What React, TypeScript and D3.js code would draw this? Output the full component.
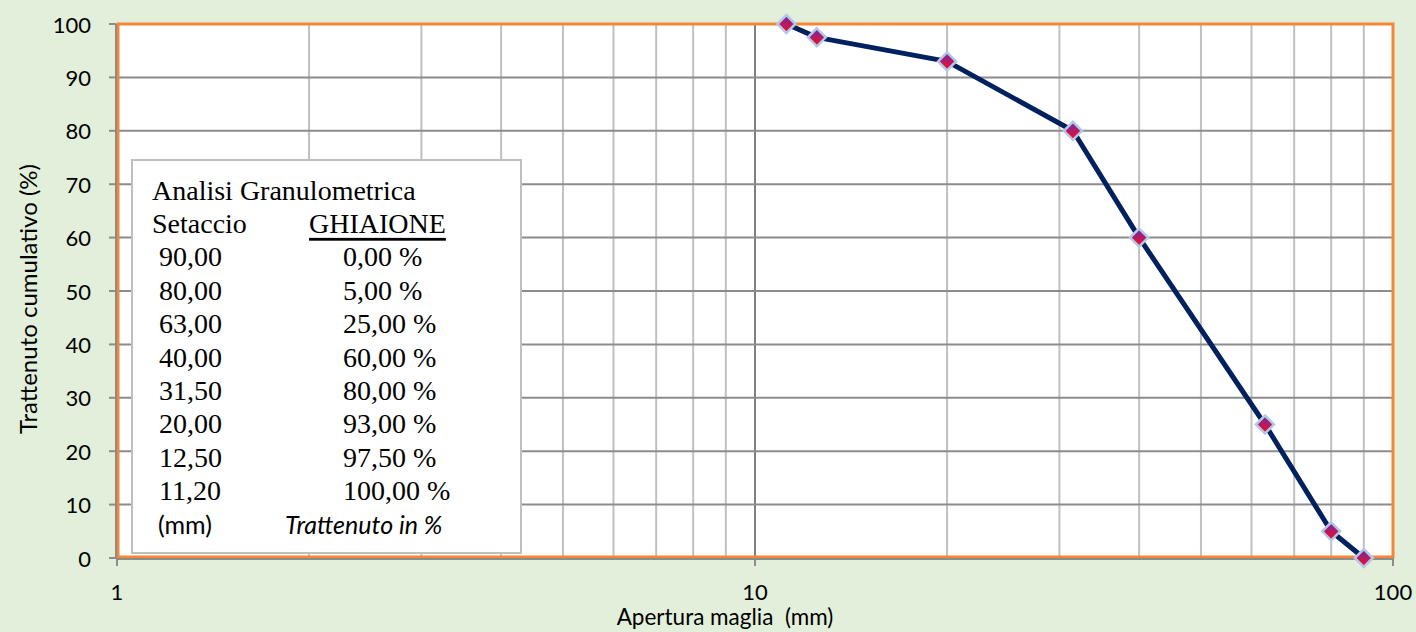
import { line, scaleLinear, scaleLog } from "d3";

const sieves = [90, 80, 63, 40, 31.5, 20, 12.5, 11.2];
const retained = [0, 5, 25, 60, 80, 93, 97.5, 100];
const sieveLabels = ["90,00", "80,00", "63,00", "40,00", "31,50", "20,00", "12,50", "11,20"];
const retainedLabels = ["0,00 %", "5,00 %", "25,00 %", "60,00 %", "80,00 %", "93,00 %", "97,50 %", "100,00 %"];
const xGridValues = [2, 3, 4, 5, 6, 7, 8, 9, 10, 20, 30, 40, 50, 60, 70, 80, 90];
const xTickValues = [1, 10, 100];
const yTickValues = [0, 10, 20, 30, 40, 50, 60, 70, 80, 90, 100];

const WIDTH = 1416;
const HEIGHT = 632;
const LEFT = 117;
const RIGHT = 1393;
const TOP = 24;
const BOTTOM = 558;

const SANS = "Lato, 'Open Sans', sans-serif";
const SERIF = "'Liberation Serif', 'Times New Roman', serif";

export default function App() {
  const x = scaleLog().domain([1, 100]).range([LEFT, RIGHT]);
  const y = scaleLinear().domain([0, 100]).range([BOTTOM, TOP]);
  const points = sieves.map((s, i) => ({ s, v: retained[i] }));
  const path = line<{ s: number; v: number }>()
    .x((d) => x(d.s))
    .y((d) => y(d.v))(points);

  const boxX = 132;
  const boxY = 160;
  const rowY = (i: number) => 190 + i * 33.4;

  return (
    <div style={{ position: "absolute", left: 0, top: 0 }}>
      <svg width={WIDTH} height={HEIGHT} style={{ display: "block" }}>
        <defs>
          <linearGradient id="mk" x1="0" y1="0" x2="0" y2="1">
            <stop offset="0%" stopColor="#6a2aa8" />
            <stop offset="100%" stopColor="#ff0a1e" />
          </linearGradient>
        </defs>
        <rect x={0} y={0} width={WIDTH} height={HEIGHT} fill="#e2efda" />
        <rect x={LEFT} y={TOP} width={RIGHT - LEFT} height={BOTTOM - TOP} fill="#ffffff" />

        {xGridValues.map((v) => (
          <line
            key={`xg${v}`}
            x1={x(v)}
            x2={x(v)}
            y1={TOP}
            y2={BOTTOM}
            stroke={v === 10 ? "#808080" : "#c0c0c0"}
            strokeWidth={2}
          />
        ))}
        {yTickValues.slice(1, -1).map((v) => (
          <line key={`yg${v}`} x1={LEFT} x2={RIGHT} y1={y(v)} y2={y(v)} stroke="#8c8c8c" strokeWidth={2} />
        ))}

        <rect
          x={LEFT + 1}
          y={TOP}
          width={RIGHT - LEFT - 1}
          height={BOTTOM - TOP - 1}
          fill="none"
          stroke="#f58634"
          strokeWidth={3}
        />

        {/* axes */}
        <line x1={LEFT - 1} x2={LEFT - 1} y1={TOP} y2={BOTTOM + 1} stroke="#8c8c8c" strokeWidth={2} />
        <line x1={LEFT - 1} x2={RIGHT + 1} y1={BOTTOM + 1} y2={BOTTOM + 1} stroke="#8c8c8c" strokeWidth={2} />
        {yTickValues.map((v) => (
          <g key={`yt${v}`}>
            <line x1={LEFT - 8} x2={LEFT - 1} y1={y(v)} y2={y(v)} stroke="#8c8c8c" strokeWidth={2} />
            <text
              x={91}
              y={y(v)}
              textAnchor="end"
              dominantBaseline="central"
              fontFamily={SANS}
              fontSize={22}
              fill="#000"
            >
              {v}
            </text>
          </g>
        ))}
        {xTickValues.map((v) => (
          <g key={`xt${v}`}>
            <line x1={x(v)} x2={x(v)} y1={BOTTOM} y2={BOTTOM + 8} stroke="#8c8c8c" strokeWidth={2} />
            <text
              x={x(v)}
              y={600}
              textAnchor="middle"
              fontFamily={SANS}
              fontSize={22}
              fill="#000"
            >
              {v}
            </text>
          </g>
        ))}
        <text
          x={725}
          y={625}
          textAnchor="middle"
          fontFamily={SANS}
          fontSize={22.5}
          fill="#000"
          style={{ whiteSpace: "pre" }}
        >
          {"Apertura maglia  (mm)"}
        </text>
        <text
          transform="translate(27,299) rotate(-90)"
          textAnchor="middle"
          dominantBaseline="central"
          fontFamily={SANS}
          fontSize={24}
          fill="#000"
        >
          Trattenuto cumulativo (%)
        </text>

        {/* legend table */}
        <rect x={boxX} y={boxY} width={389} height={393} fill="#ffffff" stroke="#bfbfbf" strokeWidth={2} />
        <g fontFamily={SERIF} fontSize={28} fill="#000">
          <text x={152} y={rowY(0)} dominantBaseline="central">
            Analisi Granulometrica
          </text>
          <text x={152} y={rowY(1)} dominantBaseline="central">
            Setaccio
          </text>
          <text x={309} y={rowY(1)} dominantBaseline="central" textDecoration="underline">
            GHIAIONE
          </text>
          {sieveLabels.map((label, i) => (
            <g key={label}>
              <text x={159} y={rowY(i + 2)} dominantBaseline="central">
                {label}
              </text>
              <text x={343} y={rowY(i + 2)} dominantBaseline="central">
                {retainedLabels[i]}
              </text>
            </g>
          ))}
        </g>
        <text x={158} y={rowY(10)} dominantBaseline="central" fontFamily={SANS} fontSize={25} fill="#000">
          (mm)
        </text>
        <text
          x={285}
          y={rowY(10)}
          dominantBaseline="central"
          fontFamily={SANS}
          fontStyle="italic"
          fontSize={25}
          fill="#000"
        >
          Trattenuto in %
        </text>

        {/* series */}
        {path ? <path d={path} fill="none" stroke="#002060" strokeWidth={5} strokeLinejoin="round" /> : null}
        {points.map((d) => (
          <path
            key={`m${d.s}`}
            d="M0,-9L9,0L0,9L-9,0Z"
            transform={`translate(${x(d.s)},${y(d.v)})`}
            fill="url(#mk)"
            stroke="#b4c7e7"
            strokeWidth={2.5}
          />
        ))}
      </svg>
    </div>
  );
}
